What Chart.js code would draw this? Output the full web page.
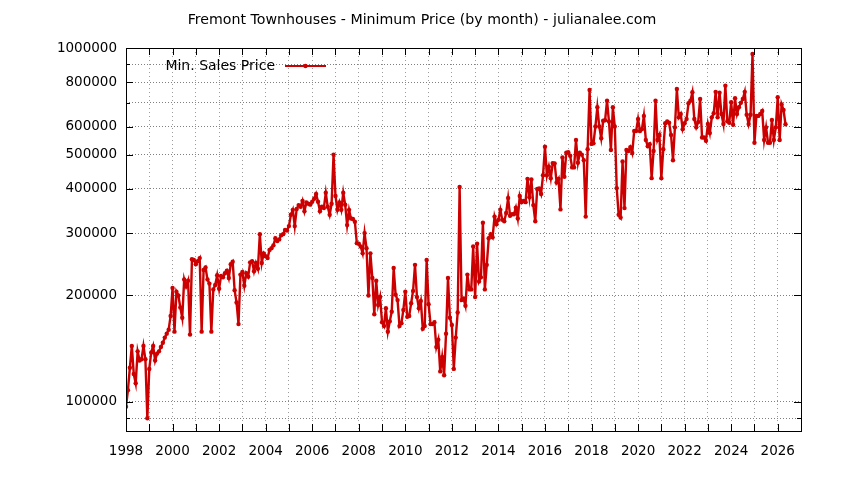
<!DOCTYPE html>
<html>
<head>
<meta charset="utf-8">
<script src="https://cdn.jsdelivr.net/npm/chart.js@4.4.1/dist/chart.umd.min.js"></script>
<style>
  html, body { margin: 0; padding: 0; background: #fff; }
  #wrap { width: 844px; height: 480px; }
</style>
</head>
<body>
<div id="wrap"><canvas id="priceChart" width="844" height="480"></canvas></div>
<script>
// monthly minimum sales price, in thousands of dollars, starting Jan 1998
const startYear = 1998;
const minPrice = [
  97, 108, 125, 144, 120, 113, 139, 131, 132, 144, 132, 90,
  124, 138, 144, 131, 137, 139, 143, 147, 152, 156,
  160, 175, 210, 158, 205, 200, 185, 173, 222, 212,
  220, 155, 253, 252, 245, 250, 255, 158, 236, 240,
  222, 216, 158, 208, 214, 228, 209, 227, 225, 231,
  235, 224, 245, 249, 207, 191, 166, 229, 233, 213,
  231, 226, 248, 250, 234, 247, 238, 298, 247, 263,
  258, 255, 269, 272, 277, 290, 285, 288, 296, 298,
  306, 305, 314,
  338, 349, 314, 351, 360, 356, 370, 346, 366, 363,
  361, 368, 375, 387, 368, 346, 356, 353, 390, 356,
  338, 363, 500, 382, 349, 366, 349, 390, 361, 316,
  349, 330, 329, 323, 281, 280, 275, 263, 300, 272,
  200, 263, 224, 177, 220, 188, 198, 168, 164, 184,
  158, 169, 180, 239, 201, 194, 164, 167, 182, 205,
  174, 175, 190, 206, 244, 198, 184, 193, 161, 164,
  252, 189, 166, 166, 168, 143, 150, 122, 134, 119,
  156, 224, 173, 165, 124,
  152, 179, 405, 194, 196, 187, 229, 208, 208, 275,
  198, 280, 219, 225, 321, 208, 244, 290, 298, 292,
  334, 318, 327, 349, 327, 324, 342, 377, 336, 339,
  339, 354, 330, 382, 367, 370, 367, 427, 379, 425,
  360, 324, 400, 401, 387, 437, 526, 437, 462, 429,
  473, 472, 417, 427, 350, 491, 433, 506, 508, 496,
  460, 460, 550, 474, 506, 500, 482, 334, 518, 761,
  536, 538, 600, 680, 600, 556, 623, 625, 710, 620,
  515, 680, 600, 402, 338,
  332, 478, 353, 515, 512, 525, 505, 583, 583, 630,
  583, 590, 643, 550, 528, 535, 429, 512, 710, 550,
  568, 429, 518, 613, 620, 615, 568, 482, 597, 766,
  637, 651, 590, 613, 630, 698, 710, 750, 630, 597,
  618, 718, 559, 559, 547, 610, 575, 637, 654, 752,
  637, 748, 651, 610, 783, 621, 615, 703, 607, 721,
  651, 680, 700, 718, 752, 648, 610, 648, 962, 540,
  643, 643, 651, 664, 550, 597, 540, 540, 626, 550,
  597, 726, 550, 693, 668, 609
];

const yearTicks = [1998, 1999, 2000, 2001, 2002, 2003, 2004, 2005, 2006, 2007, 2008, 2009, 2010, 2011, 2012,
  2013, 2014, 2015, 2016, 2017, 2018, 2019, 2020, 2021, 2022, 2023, 2024, 2025, 2026, 2027];
const yearLabels = [1998, 2000, 2002, 2004, 2006, 2008, 2010, 2012, 2014, 2016, 2018, 2020, 2022, 2024, 2026];
const priceTicks = [90000, 100000, 200000, 300000, 400000, 500000, 600000, 700000, 800000, 900000, 1000000];
const priceLabels = [100000, 200000, 300000, 400000, 500000, 600000, 800000, 1000000];

const seriesName = "Min. Sales Price";
const lineColor = "#cc0000";
const fontFamily = "'DejaVu Sans', Verdana, sans-serif";
const tickFont = { family: fontFamily, size: 13.5 };

const points = minPrice.map((v, i) => ({ x: startYear + i / 12, y: v * 1000 }));

// border, inward ticks on all sides, and the key inside the plot
const framePlugin = {
  id: "frame",
  afterDraw(chart) {
    const ctx = chart.ctx;
    const a = chart.chartArea;
    const xs = chart.scales.x;
    const ys = chart.scales.y;
    ctx.save();
    ctx.strokeStyle = "#000";
    ctx.lineWidth = 1;
    ctx.beginPath();
    yearTicks.forEach(yr => {
      const px = Math.round(xs.getPixelForValue(yr)) + 0.5;
      ctx.moveTo(px, a.bottom); ctx.lineTo(px, a.bottom - 7);
      ctx.moveTo(px, a.top); ctx.lineTo(px, a.top + 7);
    });
    priceTicks.forEach(v => {
      const py = Math.round(ys.getPixelForValue(v)) + 0.5;
      const len = priceLabels.includes(v) ? 7 : 4;
      ctx.moveTo(a.left, py); ctx.lineTo(a.left + len, py);
      ctx.moveTo(a.right, py); ctx.lineTo(a.right - len, py);
    });
    ctx.stroke();
    ctx.strokeRect(Math.round(a.left) + 0.5, Math.round(a.top) + 0.5,
      Math.round(a.right - a.left), Math.round(a.bottom - a.top));

    // key
    const ky = 66;
    ctx.font = "14px " + fontFamily;
    ctx.fillStyle = "#000";
    ctx.textAlign = "right";
    ctx.textBaseline = "middle";
    ctx.fillText(seriesName, 275, ky);
    ctx.strokeStyle = lineColor;
    ctx.lineWidth = 2;
    ctx.beginPath();
    ctx.moveTo(285, ky); ctx.lineTo(326, ky);
    ctx.stroke();
    ctx.fillStyle = lineColor;
    ctx.beginPath();
    ctx.arc(305.5, ky, 2.2, 0, Math.PI * 2);
    ctx.fill();
    ctx.restore();
  }
};

new Chart(document.getElementById("priceChart"), {
  type: "line",
  data: {
    datasets: [{
      label: seriesName,
      data: points,
      borderColor: lineColor,
      backgroundColor: lineColor,
      borderWidth: 2.4,
      pointRadius: 2.2,
      pointBorderWidth: 0,
      pointBackgroundColor: lineColor,
      tension: 0,
      fill: false
    }]
  },
  options: {
    responsive: false,
    animation: false,
    devicePixelRatio: 1,
    layout: { padding: 0 },
    plugins: {
      legend: { display: false },
      tooltip: { enabled: false },
      title: {
        display: true,
        text: "Fremont Townhouses - Minimum Price (by month) - julianalee.com",
        color: "#000",
        font: { family: fontFamily, size: 14.2, weight: "normal" },
        padding: { top: 12, bottom: 19 }
      }
    },
    scales: {
      x: {
        type: "linear",
        min: 1998,
        max: 2027,
        afterBuildTicks: s => { s.ticks = yearTicks.map(v => ({ value: v })); },
        afterFit: s => { s.height = 49; },
        ticks: {
          autoSkip: false,
          maxRotation: 0,
          padding: 12,
          color: "#000",
          font: tickFont,
          callback: v => yearLabels.includes(v) ? String(v) : ""
        },
        grid: { color: "#9a9a9a", lineWidth: 1, drawTicks: false },
        border: { display: false, dash: [1, 3] }
      },
      y: {
        type: "logarithmic",
        min: 82800,
        max: 1000000,
        afterBuildTicks: s => { s.ticks = priceTicks.map(v => ({ value: v })); },
        afterFit: s => { s.width = 126; },
        ticks: {
          autoSkip: false,
          padding: 9,
          color: "#000",
          font: tickFont,
          callback: v => priceLabels.includes(v) ? String(v) : ""
        },
        grid: { color: "#808080", lineWidth: 1, drawTicks: false },
        border: { display: false, dash: [1, 2] }
      },
      // empty right-hand margin so the title centres on the whole picture
      yRight: {
        type: "linear",
        position: "right",
        display: true,
        afterFit: s => { s.width = 43; },
        ticks: { display: false },
        grid: { display: false, drawTicks: false },
        border: { display: false }
      }
    }
  },
  plugins: [framePlugin]
});
</script>
</body>
</html>
